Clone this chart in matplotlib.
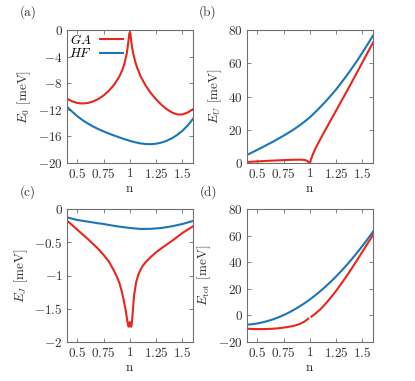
import matplotlib
matplotlib.use("Agg")
import matplotlib.pyplot as plt

# ------------------------------------------------------------
# Data (n, energies in meV)
# ------------------------------------------------------------

# (a) E_0
n_e0_ga = [0.4, 0.45, 0.5, 0.55, 0.6, 0.65, 0.7, 0.75, 0.8, 0.85, 0.9, 0.93, 0.95,
           0.97, 0.98, 0.99, 0.995, 1.0, 1.005, 1.01, 1.02, 1.03, 1.05, 1.07, 1.1,
           1.15, 1.2, 1.25, 1.3, 1.35, 1.4, 1.45, 1.5, 1.55, 1.6]
e0_ga = [-10.3, -10.72, -10.97, -11.05, -10.98, -10.75, -10.38, -9.85, -9.15,
         -8.25, -7.0, -5.95, -4.95, -3.6, -2.5, -1.2, -0.55, -0.3, -0.55, -1.2,
         -2.5, -3.4, -4.7, -5.7, -6.9, -8.35, -9.5, -10.45, -11.25, -11.9, -12.4,
         -12.7, -12.7, -12.4, -11.9]

n_hf = [0.4, 0.45, 0.5, 0.55, 0.6, 0.65, 0.7, 0.75, 0.8, 0.85, 0.9, 0.95, 1.0,
        1.05, 1.1, 1.15, 1.2, 1.25, 1.3, 1.35, 1.4, 1.45, 1.5, 1.55, 1.6]
e0_hf = [-11.5, -12.25, -12.95, -13.55, -14.05, -14.5, -14.9, -15.25, -15.57,
         -15.87, -16.15, -16.42, -16.67, -16.88, -17.05, -17.15, -17.17, -17.1,
         -16.93, -16.66, -16.28, -15.78, -15.15, -14.35, -13.35]

# (b) E_U
n_eu_ga = [0.4, 0.5, 0.6, 0.7, 0.8, 0.85, 0.9, 0.93, 0.95, 0.97, 0.98, 0.99, 1.0,
           1.005, 1.01, 1.02, 1.03, 1.04, 1.06, 1.08, 1.1, 1.15, 1.2, 1.25, 1.3,
           1.35, 1.4, 1.45, 1.5, 1.55, 1.6]
eu_ga = [0.6, 0.95, 1.3, 1.6, 1.85, 1.95, 2.0, 1.95, 1.8, 1.4, 1.0, 0.5, 0.05,
         0.9, 2.0, 3.8, 5.4, 6.9, 9.6, 12.0, 14.4, 20.2, 25.9, 31.6, 37.3, 43.0,
         48.8, 54.7, 60.6, 66.5, 72.5]

eu_hf = [4.8, 6.3, 7.9, 9.5, 11.2, 12.8, 14.6, 16.4, 18.3, 20.3, 22.5, 24.9, 27.5,
         30.5, 33.7, 37.0, 40.6, 44.3, 48.4, 52.6, 57.0, 61.6, 66.5, 71.5, 76.6]

# (c) E_J
n_ej_ga = [0.4, 0.5, 0.6, 0.7, 0.75, 0.8, 0.85, 0.88, 0.9, 0.92, 0.94, 0.96, 0.97,
           0.98, 0.985, 0.99, 0.995, 1.0, 1.005, 1.01, 1.015, 1.02, 1.03, 1.04,
           1.06, 1.08, 1.1, 1.12, 1.15, 1.2, 1.25, 1.3, 1.4, 1.5, 1.6]
ej_ga = [-0.17, -0.31, -0.45, -0.6, -0.69, -0.79, -0.93, -1.03, -1.11, -1.22,
         -1.36, -1.52, -1.62, -1.72, -1.76, -1.77, -1.74, -1.70, -1.74, -1.77,
         -1.76, -1.7, -1.5, -1.3, -1.1, -0.99, -0.92, -0.86, -0.8, -0.72, -0.65,
         -0.59, -0.48, -0.36, -0.26]

n_ej_hf = [0.4, 0.5, 0.6, 0.7, 0.75, 0.8, 0.9, 1.0, 1.1, 1.2, 1.3, 1.4, 1.5, 1.6]
ej_hf = [-0.125, -0.165, -0.19, -0.215, -0.225, -0.24, -0.265, -0.285, -0.3,
         -0.298, -0.285, -0.26, -0.225, -0.18]

# (d) E_tot  (GA has a break at n = 1)
n_et_ga_lo = [0.4, 0.45, 0.5, 0.55, 0.6, 0.65, 0.7, 0.75, 0.8, 0.85, 0.9, 0.95, 0.985]
et_ga_lo = [-10.0, -10.2, -10.3, -10.3, -10.2, -10.0, -9.7, -9.2, -8.6, -7.8,
            -6.6, -4.6, -2.5]
n_et_ga_hi = [1.015, 1.05, 1.1, 1.15, 1.2, 1.25, 1.3, 1.35, 1.4, 1.45, 1.5, 1.55, 1.6]
et_ga_hi = [-0.9, 1.2, 4.6, 8.8, 13.5, 18.5, 24.0, 29.7, 35.6, 41.7, 48.0, 54.2, 60.5]

et_hf = [-7.0, -6.64, -6.06, -5.25, -4.22, -2.97, -1.5, 0.19, 2.11, 4.25, 6.61,
         9.19, 11.99, 15.02, 18.27, 21.74, 25.43, 29.35, 33.49, 37.85, 42.43,
         47.23, 52.26, 57.51, 62.98]

x_ticks = [0.5, 0.75, 1.0, 1.25, 1.5]
x_ticklabels = ["0.5", "0.75", "1", "1.25", "1.5"]

# ------------------------------------------------------------
# Style
# ------------------------------------------------------------

RED = "#e8261c"
BLUE = "#1a75b9"
FRAME = "#707070"
TXT = "#333333"

plt.rcParams["font.family"] = "serif"
plt.rcParams["font.serif"] = ["cmr10", "DejaVu Serif"]
plt.rcParams["mathtext.fontset"] = "cm"
plt.rcParams["axes.unicode_minus"] = False
plt.rcParams["font.size"] = 9.5

W, H = 415, 381
fig = plt.figure(figsize=(W / 100, H / 100), dpi=100)


def make_axes(left_px, top_px, right_px, bottom_px):
    return fig.add_axes([left_px / W, 1 - bottom_px / H,
                         (right_px - left_px) / W, (bottom_px - top_px) / H])


def style(ax, yticks, ylabel):
    ax.set_xlim(0.4, 1.6)
    ax.set_xticks(x_ticks, ["$%s$" % s for s in x_ticklabels])
    ax.set_ylim(yticks[0], yticks[-1])
    ax.set_yticks(yticks, ["$%g$" % v for v in yticks])
    ax.tick_params(direction="in", top=True, right=True, length=3,
                   width=0.6, color=FRAME, labelcolor=TXT, pad=3)
    for sp in ax.spines.values():
        sp.set_color(FRAME)
        sp.set_linewidth(0.8)
    ax.set_xlabel(r"$\mathrm{n}$", color=TXT, labelpad=1)
    ax.set_ylabel(ylabel, color=TXT, labelpad=3)


ax_a = make_axes(66.7, 30, 193, 163)
ax_b = make_axes(246.7, 30, 373, 163)
ax_c = make_axes(66.7, 209, 193, 342)
ax_d = make_axes(246.7, 209, 373, 342)

lw = 1.5

ax_a.plot(n_e0_ga, e0_ga, color=RED, lw=lw, label="$GA$")
ax_a.plot(n_hf, e0_hf, color=BLUE, lw=lw, label="$HF$")
style(ax_a, [-20, -16, -12, -8, -4, 0], r"$E_0$ [meV]")
ax_a.legend(loc="upper left", bbox_to_anchor=(0.0, 1.0), frameon=False,
            markerfirst=False, handlelength=1.7, handletextpad=0.6,
            borderaxespad=0.1, borderpad=0.1, labelspacing=0.05)

ax_b.plot(n_hf, eu_hf, color=BLUE, lw=lw)
ax_b.plot(n_eu_ga, eu_ga, color=RED, lw=lw)
style(ax_b, [0, 20, 40, 60, 80], r"$E_U$ [meV]")

ax_c.plot(n_ej_hf, ej_hf, color=BLUE, lw=lw)
ax_c.plot(n_ej_ga, ej_ga, color=RED, lw=lw)
style(ax_c, [-2, -1.5, -1, -0.5, 0], r"$E_J$ [meV]")

ax_d.plot(n_hf, et_hf, color=BLUE, lw=lw)
ax_d.plot(n_et_ga_lo, et_ga_lo, color=RED, lw=lw)
ax_d.plot(n_et_ga_hi, et_ga_hi, color=RED, lw=lw)
style(ax_d, [-20, 0, 20, 40, 60, 80], r"$E_{\rm tot}$ [meV]")

for lab, x, y in [("(a)", 28, 12), ("(b)", 208, 12), ("(c)", 28, 192), ("(d)", 208, 192)]:
    fig.text(x / W, 1 - y / H, lab, ha="center", va="center", color=TXT)

fig.savefig("out.png", dpi=100)
